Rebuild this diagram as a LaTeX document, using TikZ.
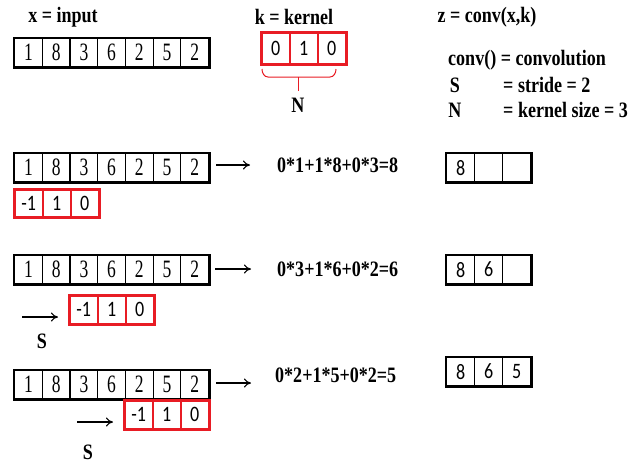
\documentclass[tikz,border=0pt]{standalone}
\usepackage{fontspec}
\setmainfont{Liberation Serif}
\newfontfamily\calib{Carlito}
\usetikzlibrary{arrows.meta}
\definecolor{kred}{RGB}{232,28,36}
\newcommand{\hsq}[2][0.82]{\scalebox{#1}[1]{#2}}
\newcommand{\xarr}[2]{%
  \foreach \v [count=\i] in {1,8,3,6,2,5,2}{%
    \node[xc,anchor=north west] (#1c\i) at ({14+27.71*(\i-1)},#2) {\hsq[0.7]{\v}};}
  \draw[line width=2.8pt] (#1c1.north west) rectangle (#1c7.south east);}
\newcommand{\karr}[5]{%
  \foreach \v [count=\i] in {#5}{%
    \node[kc,minimum height=#4pt,anchor=north west] (#1c\i) at ({#2+28*(\i-1)},#3) {\hsq[0.82]{\v}};}
  \draw[kred,line width=2.6pt] (#1c1.north west) rectangle (#1c3.south east);}
\newcommand{\zarr}[3]{%
  \foreach \v [count=\i] in {#3}{%
    \node[zc,anchor=north west] (#1c\i) at ({446+28*(\i-1)},#2) {\hsq[0.82]{\v}};}
  \draw[line width=2.6pt] (#1c1.north west) rectangle (#1c3.south east);}
\begin{document}
\begin{tikzpicture}[x=1pt,y=-1pt,
  lab/.style={font=\fontsize{22}{24}\selectfont\bfseries, inner sep=0pt},
  xc/.style={draw, line width=1.2pt, minimum width=27.71pt, minimum height=28pt, inner sep=0pt, font=\fontsize{25}{25}\selectfont},
  kc/.style={draw=kred, line width=1.6pt, minimum width=28pt, inner sep=0pt, font=\calib\fontsize{22}{22}\selectfont},
  zc/.style={draw, line width=1.2pt, minimum width=28pt, minimum height=28pt, inner sep=0pt, font=\calib\fontsize{22}{22}\selectfont},
  arr/.style={-{To[length=7pt,width=9pt]}, line width=1.1pt}]
\useasboundingbox (0,0) rectangle (642,463);
% titles
\node[lab] (tx) at (63,17) {\hsq{x = input}};
\node[lab] (tk) at (294,17) {\hsq{k = kernel}};
\node[lab] (tz) at (487,17) {\hsq{z = conv(x,k)}};
\node[lab,anchor=west] (d1) at (448,60) {\hsq{conv() = convolution}};
\node[lab] (d2s) at (455,85) {\hsq{S}};
\node[lab,anchor=west] (d2) at (503,85) {\hsq{= stride = 2}};
\node[lab] (d3n) at (455,110) {\hsq{N}};
\node[lab,anchor=west] (d3) at (503,110) {\hsq{= kernel size = 3}};
% row 1
\xarr{a}{38}
\karr{k}{261}{32}{31}{0,1,0}
\draw[kred,line width=1pt] (262,69) to[out=-90,in=180] (268,77) -- (330,77) to[out=0,in=-90] (336,69);
\coordinate (bt) at (298,77);
\node[lab] (nl) at (298,105) {\hsq{N}};
\draw[kred,line width=1pt] (bt) -- (298,91);
% row 2
\xarr{b}{153}
\karr{kb}{14}{189}{27}{-1,1,0}
\coordinate (b1) at (216,165);
\coordinate (b2) at (250,165);
\draw[arr] (b1) -- (b2);
\node[lab,anchor=west] (fb) at (277,165) {\hsq{0*1+1*8+0*3=8}};
\zarr{zb}{153}{8,{},{}}
% row 3
\xarr{c}{255}
\karr{kc}{69}{295}{28}{-1,1,0}
\coordinate (c1) at (215,269);
\coordinate (c2) at (251,269);
\draw[arr] (c1) -- (c2);
\node[lab,anchor=west] (fc) at (277,269) {\hsq{0*3+1*6+0*2=6}};
\coordinate (cs1) at (22,317);
\coordinate (cs2) at (58,317);
\draw[arr] (cs1) -- (cs2);
\node[lab] (cs) at (42,341) {\hsq{S}};
\zarr{zc}{255}{8,6,{}}
% row 4
\xarr{d}{370}
\karr{kd}{124}{400}{28}{-1,1,0}
\coordinate (d1a) at (216,383);
\coordinate (d2a) at (251,383);
\draw[arr] (d1a) -- (d2a);
\node[lab,anchor=west] (fd) at (275,375) {\hsq{0*2+1*5+0*2=5}};
\coordinate (ds1) at (77,422);
\coordinate (ds2) at (113,422);
\draw[arr] (ds1) -- (ds2);
\node[lab,anchor=base] (ds) at (88,459) {\hsq{S}};
\zarr{zd}{357}{8,6,5}
\end{tikzpicture}
\end{document}
